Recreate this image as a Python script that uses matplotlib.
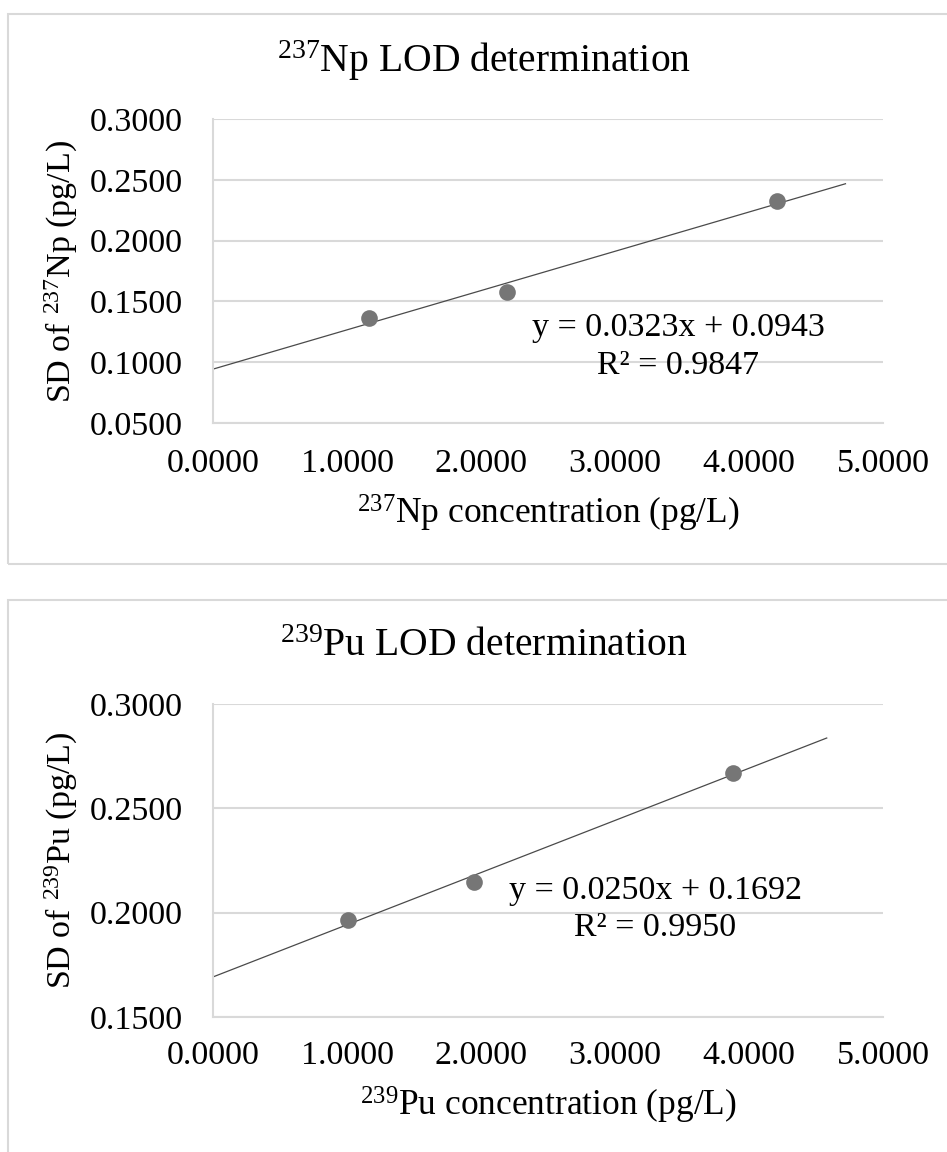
import numpy as np
import matplotlib
matplotlib.use('Agg')
import matplotlib.pyplot as plt
from matplotlib.patches import Rectangle
from matplotlib.ticker import FormatStrFormatter

plt.rcParams['font.family'] = ['Liberation Serif', 'DejaVu Serif']
plt.rcParams['mathtext.fontset'] = 'custom'
plt.rcParams['mathtext.rm'] = 'Liberation Serif'
plt.rcParams['mathtext.it'] = 'Liberation Serif:italic'

# data
np_conc = [1.164, 2.194, 4.209]
np_sd = [0.1365, 0.158, 0.2328]
np_slope, np_icpt = 0.0323, 0.0943
np_line_x = [0.0, 4.72]
np_eq = ['y = 0.0323x + 0.0943', 'R² = 0.9847']

pu_conc = [1.007, 1.948, 3.88]
pu_sd = [0.1965, 0.2147, 0.2669]
pu_slope, pu_icpt = 0.0250, 0.1692
pu_line_x = [0.0, 4.58]
pu_eq = ['y = 0.0250x + 0.1692', 'R² = 0.9950']

x_ticks = [0, 1, 2, 3, 4, 5]
np_yticks = [0.05, 0.10, 0.15, 0.20, 0.25, 0.30]
pu_yticks = [0.15, 0.20, 0.25, 0.30]

W, H = 947, 1152
GRID = '#d9d9d9'

fig = plt.figure(figsize=(W / 100, H / 100), dpi=100)

# chart frames (Excel style)
fig.add_artist(Rectangle((8 / W, 1 - 564 / H), 1.2, (564 - 14) / H,
                         transform=fig.transFigure, fill=False, ec=GRID, lw=1.5))
fig.add_artist(Rectangle((8 / W, -0.2), 1.2, 0.2 + 1 - 600 / H,
                         transform=fig.transFigure, fill=False, ec=GRID, lw=1.5))


def draw_panel(ax, xs, ys, slope, icpt, line_x, yticks, eq, eq_pos,
               title, title_y, xlabel, xlabel_y, ylabel, xpad):
    ax.set_xlim(0, 5)
    ax.set_ylim(yticks[0], yticks[-1])
    ax.set_xticks(x_ticks)
    ax.set_yticks(yticks)
    ax.xaxis.set_major_formatter(FormatStrFormatter('%.4f'))
    ax.yaxis.set_major_formatter(FormatStrFormatter('%.4f'))
    ax.tick_params(axis='both', length=0, labelsize=24.5)
    ax.tick_params(axis='y', pad=21.5)
    ax.tick_params(axis='x', pad=xpad)
    ax.grid(axis='y', color=GRID, lw=1.5)
    ax.set_axisbelow(True)
    for s in ['top', 'right']:
        ax.spines[s].set_visible(False)
    for s in ['left', 'bottom']:
        ax.spines[s].set_color(GRID)
        ax.spines[s].set_linewidth(1.5)

    lx = np.array(line_x)
    ax.plot(lx, slope * lx + icpt, color='#4a4a4a', lw=0.9, zorder=2)
    ax.plot(xs, ys, 'o', color='#767676', ms=12, mec='none', zorder=3)

    ax.text(eq_pos[0], eq_pos[1], eq[0], transform=ax.transAxes,
            ha='center', va='center', fontsize=24.5)
    ax.text(eq_pos[0], eq_pos[2], eq[1], transform=ax.transAxes,
            ha='center', va='center', fontsize=24.5)

    fig.text(484 / W, title_y, title, ha='center', va='center', fontsize=28.5)
    ax.text(0.5, xlabel_y, xlabel, transform=ax.transAxes,
            ha='center', va='center', fontsize=25.5)
    ax.text(-0.226, 0.5, ylabel, transform=ax.transAxes, rotation=90,
            ha='center', va='center', fontsize=24.5)


ax1 = fig.add_axes([213 / W, 1 - 423 / H, 670 / W, 304 / H])
draw_panel(ax1, np_conc, np_sd, np_slope, np_icpt, np_line_x, np_yticks,
           np_eq, (0.694, 0.314, 0.188),
           r'$^{\mathrm{237}}$Np LOD determination', 1 - 61 / H,
           r'$^{\mathrm{237}}$Np concentration (pg/L)', -0.296,
           r'SD of $^{\mathrm{237}}$Np (pg/L)', 18)

ax2 = fig.add_axes([213 / W, 1 - 1017 / H, 670 / W, 313 / H])
draw_panel(ax2, pu_conc, pu_sd, pu_slope, pu_icpt, pu_line_x, pu_yticks,
           pu_eq, (0.66, 0.403, 0.284),
           r'$^{\mathrm{239}}$Pu LOD determination', 1 - 647 / H,
           r'$^{\mathrm{239}}$Pu concentration (pg/L)', -0.284,
           r'SD of $^{\mathrm{239}}$Pu (pg/L)', 17)

fig.savefig('out.png', dpi=100, facecolor='white')
